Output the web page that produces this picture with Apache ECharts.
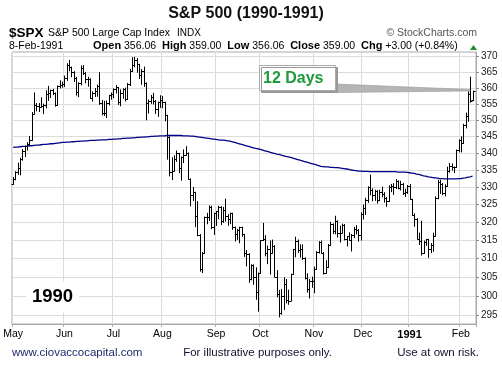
<!DOCTYPE html>
<html><head><meta charset="utf-8">
<script src="https://cdn.jsdelivr.net/npm/echarts@6/dist/echarts.min.js"></script>
<style>html,body{margin:0;padding:0;background:#fff}#c{width:502px;height:371px}</style>
</head><body><div id="c"></div>
<script>
// Month tick labels and the trading-day index where each month starts
const monthLabels = ['May','Jun','Jul','Aug','Sep','Oct','Nov','Dec','1991','Feb'];
const monthStart = [0,22,43,64,87,106,129,150,170,192];
const yTicks = [295,300,305,310,315,320,325,330,335,340,345,350,355,360,365,370];

// Daily OHLC, May 1 1990 .. Feb 8 1991
const openP = [
330.80,332.25,334.48,335.57,338.39,340.53,342.01,342.86,343.82,352.00,354.75,354.28,354.00,354.47,354.64,358.00,358.43,359.29,358.41,354.58,360.65,360.86,
361.23,363.16,367.40,366.64,364.96,363.15,358.71,361.63,366.25,364.90,362.90,362.91,356.88,358.47,359.10,360.47,355.43,352.31,352.06,355.14,357.63,
358.02,359.54,360.16,355.68,358.42,359.52,356.49,361.23,365.44,367.31,368.95,367.52,364.22,365.32,361.61,355.31,355.79,357.09,355.91,353.44,355.55,
356.15,355.52,351.48,344.86,334.43,334.83,338.35,339.94,335.52,338.84,339.39,340.06,332.39,327.83,328.51,321.86,316.55,307.06,311.51,321.44,321.34,324.19,318.71,
322.56,323.09,324.39,320.46,323.40,321.63,321.04,322.54,318.65,316.83,317.77,318.60,316.60,311.48,311.32,304.59,308.26,305.06,300.97,
306.05,314.94,315.21,311.40,312.69,311.50,313.48,305.10,300.39,295.46,300.03,303.23,298.92,298.76,305.74,312.48,314.76,312.36,312.60,310.17,304.71,301.88,304.06,
304.00,307.02,311.85,314.59,311.62,306.01,307.61,313.74,319.48,317.67,320.40,317.02,317.12,319.34,315.31,316.03,315.10,316.51,318.10,317.95,316.42,
322.22,324.10,326.35,329.92,329.07,327.75,328.89,326.44,328.71,328.16,326.82,326.02,330.05,330.20,330.12,331.75,329.90,330.85,328.29,328.72,
330.22,326.45,321.91,321.00,315.44,314.90,311.49,314.53,315.23,312.49,313.73,316.17,327.00,331.60,331.06,328.31,330.21,334.78,336.07,335.84,335.79,340.91,
343.93,343.05,348.34,351.26,358.07,356.06];
const highP = [
332.83,334.48,337.02,338.46,341.07,342.03,343.08,344.98,352.31,358.41,355.10,355.09,356.92,354.90,359.07,360.50,359.29,359.56,358.41,360.65,362.26,361.84,
363.78,367.75,368.78,366.64,365.15,363.36,361.64,367.02,367.09,364.93,363.37,362.91,358.77,359.81,360.91,364.83,356.08,355.79,355.89,357.67,358.40,
359.69,360.73,360.16,359.39,359.75,359.92,361.42,365.95,369.68,369.78,369.40,367.52,365.85,366.64,361.61,356.25,357.62,358.31,356.06,355.56,357.54,
357.35,355.52,351.48,344.86,338.63,339.21,340.65,339.94,338.88,340.96,341.92,340.06,332.39,329.90,328.51,325.83,316.55,311.65,321.44,322.50,324.64,324.52,322.57,
323.09,324.52,324.39,324.17,326.53,322.14,322.55,322.54,318.65,318.05,318.62,318.60,316.60,312.17,311.32,308.28,308.28,307.47,306.05,
314.94,319.69,316.26,313.40,314.79,315.03,313.48,306.73,301.45,301.68,304.79,304.34,301.50,305.74,312.48,315.83,315.06,313.71,313.71,310.17,305.85,304.36,304.96,
307.65,311.85,314.59,314.76,311.62,309.38,313.79,319.95,319.54,321.69,320.40,318.88,319.46,319.34,316.05,317.05,316.61,318.57,319.06,317.95,322.67,
324.90,326.80,330.10,333.50,329.50,329.10,329.00,329.10,330.00,328.40,327.00,330.40,330.80,331.00,332.20,331.80,331.70,331.10,329.40,330.50,
330.75,326.53,322.35,321.00,316.97,320.30,314.77,315.24,315.23,314.04,316.96,327.20,332.00,332.00,331.06,330.70,335.83,336.92,336.81,335.91,340.91,343.93,
344.90,348.71,352.15,358.76,363.44,359.00];
const lowP = [
330.80,332.15,333.73,333.57,337.89,338.96,340.90,342.23,343.82,352.00,352.84,352.65,354.00,351.96,353.78,356.09,356.99,357.87,354.32,354.55,360.00,360.23,
360.42,362.40,365.49,363.58,362.03,357.76,357.28,361.00,364.30,361.62,360.56,356.80,355.89,357.30,357.40,354.86,351.61,351.41,350.77,354.68,356.46,
356.94,358.44,354.86,354.41,356.75,355.93,356.39,360.76,365.32,366.74,364.99,362.98,361.16,360.50,350.09,352.17,355.17,354.97,352.04,351.16,353.91,
353.79,349.73,338.20,333.27,332.22,334.83,337.56,334.21,332.02,337.19,339.38,332.39,324.63,326.19,318.77,316.23,306.56,306.18,311.51,319.58,320.51,318.21,316.59,
319.11,320.99,319.37,319.97,320.31,319.16,319.60,318.02,314.76,315.21,314.30,316.08,310.55,307.98,303.58,304.23,303.06,299.10,295.98,
306.05,314.94,310.70,308.59,305.76,311.50,305.09,299.71,294.51,295.22,296.41,298.12,297.79,298.76,305.74,310.47,311.66,310.37,309.70,304.48,300.99,299.44,302.24,
300.80,307.02,311.48,311.50,305.79,306.01,307.61,313.70,316.85,316.78,315.87,314.51,317.12,315.09,313.40,315.08,312.03,315.75,316.76,314.73,315.03,
320.90,322.20,325.60,327.80,326.10,326.20,325.40,326.10,327.20,325.70,324.50,325.90,328.70,327.90,329.60,329.50,329.20,327.90,327.30,328.20,
326.45,321.90,318.87,315.44,313.79,310.93,311.39,313.59,310.30,311.58,312.00,316.17,326.67,328.20,327.84,327.47,330.21,334.39,335.01,334.26,335.79,340.37,
340.37,342.96,347.60,349.61,355.53,356.06];
const closeP = [
332.25,334.48,335.57,338.39,340.53,342.01,342.86,343.82,352.00,354.75,354.28,354.00,354.47,354.64,358.00,358.43,359.29,358.41,354.58,360.65,360.86,361.23,
363.16,367.40,366.64,364.96,363.15,358.71,361.63,366.25,364.90,362.90,362.91,356.88,358.47,359.10,360.47,355.43,352.31,352.06,355.14,357.63,358.02,
359.54,360.16,355.68,358.42,359.52,356.49,361.23,365.44,367.31,368.95,367.52,364.22,365.32,361.61,355.31,355.79,357.09,355.91,353.44,355.55,356.15,
355.52,351.48,344.86,334.43,334.83,338.35,339.94,335.52,338.84,339.39,340.06,332.39,327.83,328.51,321.86,316.55,307.06,311.51,321.44,321.34,324.19,318.71,322.56,
323.09,324.39,320.46,323.40,321.63,321.04,322.54,318.65,316.83,317.77,318.60,316.60,311.48,311.32,304.59,308.26,305.06,300.97,306.05,
314.94,315.21,311.40,312.69,311.50,313.48,305.10,300.39,295.46,300.03,303.23,298.92,298.76,305.74,312.48,314.76,312.36,312.60,310.17,304.71,301.88,304.06,304.00,
307.02,311.85,314.59,311.62,306.01,307.61,313.74,319.48,317.67,320.40,317.02,317.12,319.34,315.31,316.03,315.10,316.51,318.10,317.95,316.42,322.22,
324.10,326.35,329.92,329.07,327.75,328.89,326.44,328.71,328.16,326.82,326.02,330.05,330.20,330.12,331.75,329.90,330.85,328.29,328.72,330.22,
326.45,321.91,321.00,315.44,314.90,311.49,314.53,315.23,312.49,313.73,316.17,327.00,331.60,331.06,328.31,330.21,334.78,336.07,335.84,335.79,340.91,343.93,
343.05,348.34,351.26,358.07,356.00,359.00];

// 200-day moving average as drawn
const ma200 = [
341.7,341.8,341.8,341.9,342.0,342.0,342.1,342.2,342.2,342.3,342.4,342.4,342.5,342.6,342.6,342.7,342.8,342.8,342.9,343.0,343.1,343.2,
343.2,343.3,343.3,343.4,343.4,343.5,343.5,343.6,343.6,343.7,343.7,343.8,343.8,343.8,343.9,343.9,344.0,344.0,344.0,344.1,344.1,
344.2,344.2,344.3,344.3,344.4,344.4,344.5,344.5,344.6,344.6,344.7,344.7,344.8,344.8,344.9,344.9,345.0,345.0,345.1,345.1,345.2,
345.2,345.2,345.3,345.3,345.3,345.3,345.3,345.3,345.3,345.2,345.2,345.2,345.1,345.1,345.0,344.9,344.8,344.7,344.6,344.5,344.4,344.3,344.2,
344.1,344.0,343.9,343.9,343.8,343.7,343.6,343.4,343.2,343.0,342.8,342.6,342.4,342.2,342.0,341.8,341.6,341.4,341.3,
341.1,340.9,340.7,340.5,340.3,340.1,339.9,339.7,339.6,339.4,339.2,339.0,338.9,338.7,338.5,338.3,338.1,337.9,337.7,337.5,337.3,337.1,336.9,
336.7,336.5,336.3,336.1,336.0,335.9,335.9,335.8,335.8,335.7,335.7,335.6,335.5,335.4,335.3,335.2,335.0,334.9,334.8,334.7,334.7,
334.6,334.6,334.6,334.5,334.5,334.5,334.5,334.5,334.5,334.5,334.5,334.5,334.5,334.5,334.5,334.4,334.4,334.4,334.4,334.3,
334.2,334.1,334.0,333.8,333.7,333.5,333.3,333.2,333.0,332.9,332.8,332.7,332.6,332.5,332.5,332.4,332.4,332.4,332.4,332.4,332.4,332.5,
332.5,332.6,332.7,332.9,333.0,333.2];

const nSlots = openP.length + 1;
const cats = Array.from({length: nSlots}, (_, i) => String(i));
const ohlc = openP.map((o, i) => [i, o, highP[i], lowP[i], closeP[i]]);
const maData = ma200.map((v, i) => [i, v]);
const isMonth = (i) => monthStart.indexOf(i) >= 0;
const FONT = '"Liberation Sans", Arial, sans-serif';

const chart = echarts.init(document.getElementById('c'), null, {renderer: 'canvas'});
chart.setOption({
  animation: false,
  backgroundColor: '#fff',
  grid: {left: 12, right: 26, top: 52, bottom: 47, show: true, borderColor: '#aaa', borderWidth: 1},
  xAxis: {
    type: 'category', data: cats, boundaryGap: true,
    axisLine: {show: true, lineStyle: {color: '#aaa'}},
    axisTick: {show: true, interval: (i) => isMonth(i), length: 3, lineStyle: {color: '#aaa'}},
    splitLine: {show: true, interval: (i) => isMonth(i), lineStyle: {color: '#dcdcdc'}},
    axisLabel: {
      interval: (i) => isMonth(i), margin: 5, color: '#000', fontSize: 10.5, fontFamily: FONT,
      formatter: (v) => { const k = monthStart.indexOf(+v); if (k < 0) return ''; const t = monthLabels[k]; return t === '1991' ? '{b|' + t + '}' : t; },
      rich: {b: {fontWeight: 'bold', fontSize: 11, fontFamily: FONT, color: '#000'}}
    }
  },
  yAxis: {
    type: 'log', logBase: 10, position: 'right', min: 292.68, max: 371.53,
    axisLine: {show: true, lineStyle: {color: '#aaa'}},
    axisTick: {show: true, customValues: yTicks, length: 3, lineStyle: {color: '#888'}},
    axisLabel: {customValues: yTicks, color: '#222', fontSize: 10, fontFamily: FONT, margin: 5, formatter: (v) => String(Math.round(v))},
    splitLine: {show: true, lineStyle: {color: '#dcdcdc'}}
  },
  series: [
    {
      type: 'line', data: maData, showSymbol: false, symbol: 'none', z: 3,
      lineStyle: {color: '#000088', width: 1.3}
    },
    {
      type: 'custom', data: ohlc, encode: {x: 0, y: [1, 2, 3, 4]}, z: 4,
      renderItem: function (params, api) {
        const x = api.value(0);
        const o = api.coord([x, api.value(1)]);
        const h = api.coord([x, api.value(2)]);
        const l = api.coord([x, api.value(3)]);
        const c = api.coord([x, api.value(4)]);
        const px = Math.round(o[0]) + 0.5;
        const st = {stroke: '#000', lineWidth: 1};
        return {type: 'group', children: [
          {type: 'line', shape: {x1: px, y1: h[1] - 0.5, x2: px, y2: l[1] + 0.5}, style: st},
          {type: 'line', shape: {x1: px - 2, y1: Math.round(o[1]) + 0.5, x2: px, y2: Math.round(o[1]) + 0.5}, style: st},
          {type: 'line', shape: {x1: px, y1: Math.round(c[1]) + 0.5, x2: px + 2, y2: Math.round(c[1]) + 0.5}, style: st}
        ]};
      }
    }
  ],
  graphic: [
    {type: 'text', z: 20, style: {x: 246, y: 14, text: 'S&P 500 (1990-1991)', align: 'center', verticalAlign: 'middle', font: 'bold 16px ' + FONT, fill: '#111'}},
    {type: 'text', z: 20, style: {x: 9, y: 33, text: '$SPX', verticalAlign: 'middle', font: 'bold 13.5px ' + FONT, fill: '#000'}},
    {type: 'text', z: 20, style: {x: 48, y: 33, text: 'S&P 500 Large Cap Index', verticalAlign: 'middle', font: '10.5px ' + FONT, fill: '#000'}},
    {type: 'text', z: 20, style: {x: 177, y: 33, text: 'INDX', verticalAlign: 'middle', font: '10px ' + FONT, fill: '#000'}},
    {type: 'text', z: 20, style: {x: 477, y: 33, text: '\u00A9 StockCharts.com', align: 'right', verticalAlign: 'middle', font: '10.5px ' + FONT, fill: '#555'}},
    {type: 'text', z: 20, style: {x: 9, y: 46, text: '8-Feb-1991', verticalAlign: 'middle', font: '10.5px ' + FONT, fill: '#000'}},
    {type: 'text', z: 20, style: {x: 93, y: 46, verticalAlign: 'middle', font: '10.5px ' + FONT, fill: '#000',
      text: '{b|Open} 356.06  {b|High} 359.00  {b|Low} 356.06  {b|Close} 359.00  {b|Chg} +3.00 (+0.84%)',
      rich: {b: {font: 'bold 11px ' + FONT, fill: '#000'}}}},
    {type: 'polygon', z: 20, shape: {points: [[470, 50], [477, 50], [473.5, 45]]}, style: {fill: '#1f8a2e'}},
    {type: 'text', z: 20, style: {x: 26, y: 297, text: '1990', verticalAlign: 'middle', font: 'bold 18.5px ' + FONT, fill: '#000', backgroundColor: '#fff', padding: [6, 6]}},
    {type: 'polygon', z: 19, shape: {points: [[336, 84], [470, 89.5], [470, 91], [336, 92.5]]}, style: {fill: '#b5b5b5', stroke: '#999', lineWidth: 0.6}},
    {type: 'rect', z: 20, shape: {x: 259.5, y: 65.5, width: 76, height: 25}, style: {fill: '#fff', stroke: '#aaa', lineWidth: 1, shadowColor: '#999', shadowOffsetX: 2, shadowOffsetY: 2, shadowBlur: 0}},
    {type: 'text', z: 21, style: {x: 263, y: 78.5, text: '12 Days', verticalAlign: 'middle', font: 'bold 16px ' + FONT, fill: '#1f9a3a'}},
    {type: 'text', z: 20, style: {x: 12, y: 352.5, text: 'www.ciovaccocapital.com', verticalAlign: 'middle', font: '11.5px ' + FONT, fill: '#1e2b6b'}},
    {type: 'text', z: 20, style: {x: 257.5, y: 352.5, text: 'For illustrative purposes only.', align: 'center', verticalAlign: 'middle', font: '11.5px ' + FONT, fill: '#101030'}},
    {type: 'text', z: 20, style: {x: 479, y: 352.5, text: 'Use at own risk.', align: 'right', verticalAlign: 'middle', font: '11.5px ' + FONT, fill: '#101030'}}
  ]
});
</script>
</body></html>
